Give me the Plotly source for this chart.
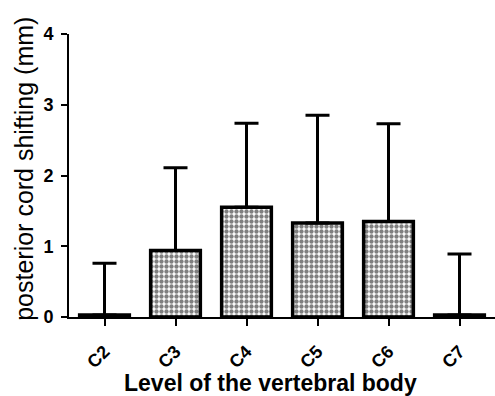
import plotly.graph_objects as go

categories = ["C2", "C3", "C4", "C5", "C6", "C7"]
means = [0.03, 0.94, 1.55, 1.33, 1.35, 0.03]
upper = [0.76, 2.11, 2.74, 2.85, 2.73, 0.89]
y_ticks = [0, 1, 2, 3, 4]

err_plus = [u - m for u, m in zip(upper, means)]

fig = go.Figure()
fig.add_trace(go.Bar(
    x=categories, y=means, width=0.7,
    marker=dict(color="white", line=dict(color="black", width=3.5),
                pattern=dict(shape=".", fgcolor="black", bgcolor="white", size=5, solidity=0.6)),
    error_y=dict(type="data", symmetric=False, array=err_plus,
                 arrayminus=[0]*len(means), color="black", thickness=3, width=12),
))

font = dict(family="Liberation Sans, Arial, sans-serif", color="black")
fig.update_layout(
    width=495, height=396, margin=dict(l=69, r=0, t=34, b=79),
    plot_bgcolor="white", paper_bgcolor="white", showlegend=False,
    font=font, bargap=0.3,
    xaxis=dict(range=[-0.5, 5.5], showline=True, linecolor="black", linewidth=2,
               ticks="outside", ticklen=7, tickwidth=2, tickcolor="black",
               ticklabelstandoff=8,
               tickangle=-45, tickfont=dict(size=18, family="Liberation Sans", color="black", weight="bold"),
               showgrid=False, zeroline=False),
    yaxis=dict(range=[0, 4], tickvals=y_ticks, showline=True, linecolor="black", linewidth=2,
               ticks="outside", ticklen=6, tickwidth=2, tickcolor="black",
               ticklabelstandoff=4,
               tickfont=dict(size=18, family="Liberation Sans", color="black", weight="bold"),
               showgrid=False, zeroline=False),
    annotations=[
        dict(text="<b>Level of the vertebral body</b>", xref="paper", yref="paper",
             x=0.473, y=-0.233, xanchor="center", yanchor="middle", showarrow=False,
             font=dict(size=23, family="Liberation Sans", color="black")),
        dict(text="posterior cord shifting (mm)", xref="paper", yref="paper",
             x=-0.106, y=0.523, xanchor="center", yanchor="middle", showarrow=False,
             textangle=-90, font=dict(size=25, family="Liberation Sans", color="black")),
    ],
)
fig.write_html("out.html")
